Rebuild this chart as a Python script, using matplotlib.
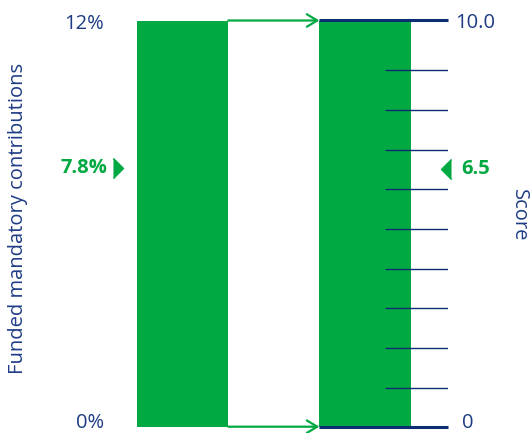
import matplotlib.pyplot as plt
from matplotlib.transforms import blended_transform_factory as blend, offset_copy

#============================================================================#
# data
bar_names = ['Funded mandatory contributions', 'Score']
pct_max = 12          # left scale, %
score_max = 10.0      # right scale
pct_value = 7.8       # funded mandatory contributions, %
score_value = 6.5
score_ticks = [0.96, 1.94, 2.92, 3.89, 4.87, 5.85, 6.82, 7.80, 8.77]

GREEN = '#00a941'
NAVY = '#0b2d72'
TXT = '#1d3c84'
plt.rcParams['font.family'] = ['Open Sans', 'DejaVu Sans']

#============================================================================#
W, H = 531, 433
fig = plt.figure(figsize=(W / 100, H / 100), dpi=100)
# axes box: x from bar 0 left edge to tick ends, y from 0 to 10 line
ax = fig.add_axes([137 / W, (H - 426.7) / H, (448 - 137) / W, (426.7 - 20.5) / H])
ax.set_xlim(-0.25, 1.455)
ax.set_ylim(0, score_max)
ax2 = ax.twinx()
ax2.set_ylim(0, pct_max)
for a in (ax, ax2):
    a.axis('off')

# bars
ax2.bar(0, pct_max, width=0.5, color=GREEN, zorder=1)
ax.bar(1, score_max, width=0.5, color=GREEN, zorder=1)

# score scale lines
ax.hlines([0, score_max], 0.75, 1.455, color=NAVY, lw=2.2, zorder=3, clip_on=False)
ax.hlines(score_ticks, 1.11, 1.455, color=NAVY, lw=1.0, zorder=3)

# arrows linking the two scales
for yv in (0, score_max):
    ax.annotate('', xy=(0.75, yv), xytext=(0.25, yv),
                arrowprops=dict(arrowstyle='->,head_length=0.5,head_width=0.3',
                                color=GREEN, lw=1.6, shrinkA=0, shrinkB=0,
                                mutation_scale=15),
                annotation_clip=False, zorder=4)

# end labels (nudged inside the figure a bit)
tl = blend(fig.transFigure, ax2.transData)
tr = blend(fig.transFigure, ax.transData)
tl_top = offset_copy(tl, fig=fig, y=-3, units='dots')
tl_bot = offset_copy(tl, fig=fig, y=4, units='dots')
tr_top = offset_copy(tr, fig=fig, y=-3, units='dots')
tr_bot = offset_copy(tr, fig=fig, y=4, units='dots')
tl_mid = offset_copy(tl, fig=fig, y=-5, units='dots')
tr_mid = offset_copy(tr, fig=fig, y=-6, units='dots')
fs = 14.5
ax2.text(104 / W, pct_max, '{}%'.format(pct_max), transform=tl_top, ha='right',
         va='center', color=TXT, fontsize=fs)
ax2.text(104 / W, 0, '0%', transform=tl_bot, ha='right', va='center', color=TXT, fontsize=fs)
ax.text(455 / W, score_max, '{:.1f}'.format(score_max), transform=tr_top, ha='left',
        va='center', color=TXT, fontsize=fs)
ax.text(462 / W, 0, '0', transform=tr_bot, ha='left', va='center', color=TXT, fontsize=fs)

# value markers
tri_r = [(-0.5, -1), (0.5, 0), (-0.5, 1)]
tri_l = [(0.5, -1), (-0.5, 0), (0.5, 1)]
ax2.plot([117.5 / W], [pct_value], transform=tl_mid, marker=tri_r, ms=14.5,
         color=GREEN, clip_on=False)
ax.plot([445.5 / W], [score_value], transform=tr_mid, marker=tri_l, ms=14.5,
        color=GREEN, clip_on=False)
ax2.text(107 / W, pct_value, '{}%'.format(pct_value), transform=tl_mid, ha='right',
         va='center', color=GREEN, fontsize=fs, fontweight='bold')
ax.text(461 / W, score_value, '{}'.format(score_value), transform=tr_mid, ha='left',
        va='center', color=GREEN, fontsize=fs, fontweight='bold')

# axis titles
fig.text(18 / W, 1 - 218 / H, bar_names[0], rotation=90, ha='center', va='center',
         color=TXT, fontsize=fs)
fig.text(519 / W, 1 - 215 / H, bar_names[1], rotation=270, ha='center', va='center',
         color=TXT, fontsize=fs)

plt.savefig('out.png', dpi=100)
